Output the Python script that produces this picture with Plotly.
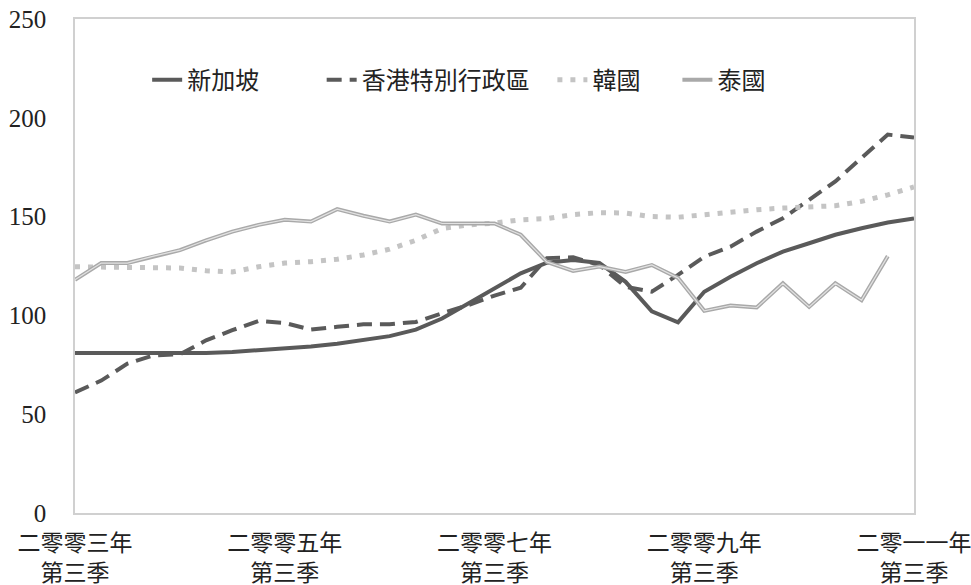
import plotly.graph_objects as go

# Quarters 2003Q3 .. 2011Q3
quarters = []
for yr in range(2003, 2012):
    for q in range(1, 5):
        if (yr == 2003 and q < 3) or (yr == 2011 and q > 3):
            continue
        quarters.append(f"{yr}Q{q}")

tick_cats = ["2003Q3", "2005Q3", "2007Q3", "2009Q3", "2011Q3"]
tick_labels = ["二零零三年<br>第三季", "二零零五年<br>第三季", "二零零七年<br>第三季",
               "二零零九年<br>第三季", "二零一一年<br>第三季"]

singapore = [81, 81, 80.5, 80.5, 80.8, 81, 81.5, 82.3, 83.2, 84.3, 85.7, 87.4, 89.5,
             92.8, 98.4, 106, 113.7, 121.3, 126.7, 128, 126.5, 117, 102, 96.5, 112,
             119.6, 126.4, 132.3, 136.5, 140.8, 144.1, 147, 149]
hongkong = [61, 67, 75.6, 79.8, 80.3, 87.4, 92.5, 97.2, 96.2, 92.8, 94.2, 95.5, 95.5,
            96.7, 101, 105.2, 110, 114, 129, 129.4, 125.5, 114.5, 112, 120.5, 129.7,
            134.8, 142.4, 149.2, 158.5, 167.8, 179.7, 191.5, 190]
korea = [124.6, 124.6, 124.6, 124.6, 124, 122.6, 122, 124.6, 126.5, 127.2, 128.4, 130.6,
         133.5, 138, 144, 145.8, 146.7, 148.4, 149, 151, 152, 151.8, 150, 149.7, 151,
         152.6, 153.5, 154.3, 154.8, 155.5, 157.7, 161, 165]
thailand = [118, 126.5, 126.5, 130, 133, 138, 142.4, 145.8, 148.4, 147.5, 153.8, 150.4,
            147.5, 151, 146.5, 146.5, 146.5, 140.8, 127, 122.5, 124.7, 122, 125.5, 119,
            102.3, 105, 104, 116.3, 104.3, 116.3, 107.7, 130]

names = ["新加坡", "香港特別行政區", "韓國", "泰國"]

FONT = "Liberation Serif, Noto Sans CJK TC, serif"

fig = go.Figure()
fig.add_trace(go.Scatter(x=quarters, y=singapore, name=names[0], mode="lines",
                         line=dict(color="#5a5a5a", width=4), legend="legend"))
fig.add_trace(go.Scatter(x=quarters, y=hongkong, name=names[1], mode="lines",
                         line=dict(color="#5a5a5a", width=4, dash="15px,8px"),
                         legend="legend2"))
fig.add_trace(go.Scatter(x=quarters, y=korea, name=names[2], mode="lines",
                         line=dict(color="#c4c4c4", width=5, dash="5px,8px"),
                         legend="legend3"))
fig.add_trace(go.Scatter(x=quarters[:len(thailand)], y=thailand, name=names[3], mode="lines",
                         line=dict(color="#a9a9a9", width=4), legend="legend4"))
fig.add_trace(go.Scatter(x=quarters[:len(thailand)], y=thailand, name=names[3], mode="lines",
                         line=dict(color="#e2e2e2", width=1.2), showlegend=False,
                         hoverinfo="skip"))

leg_common = dict(orientation="h", yanchor="middle", xanchor="left", y=0.876,
                  bgcolor="rgba(0,0,0,0)", font=dict(family=FONT, size=24, color="#222"))
fig.update_layout(
    width=971, height=585,
    margin=dict(l=75, r=57, t=19, b=72),
    paper_bgcolor="white", plot_bgcolor="white",
    font=dict(family=FONT, size=24, color="#222"),
    legend=dict(x=0.086, **leg_common),
    legend2=dict(x=0.294, **leg_common),
    legend3=dict(x=0.569, **leg_common),
    legend4=dict(x=0.718, **leg_common),
    xaxis=dict(type="category", range=[0, 32], tickmode="array", tickvals=tick_cats,
               ticktext=tick_labels, showgrid=False, showline=True, mirror=True,
               linecolor="#d0d0d0", linewidth=1.5, ticks="", zeroline=False,
               automargin=False, ticklabelstandoff=9,
               tickfont=dict(family=FONT, size=23, color="#222")),
    yaxis=dict(range=[0, 250], tickvals=[0, 50, 100, 150, 200, 250], showgrid=False,
               showline=True, mirror=True, linecolor="#d0d0d0", linewidth=1.5,
               ticks="outside", ticklen=22, tickcolor="rgba(0,0,0,0)",
               zeroline=False, automargin=False,
               tickfont=dict(family=FONT, size=25, color="#222")),
    showlegend=True,
)

fig.write_html("out.html")
